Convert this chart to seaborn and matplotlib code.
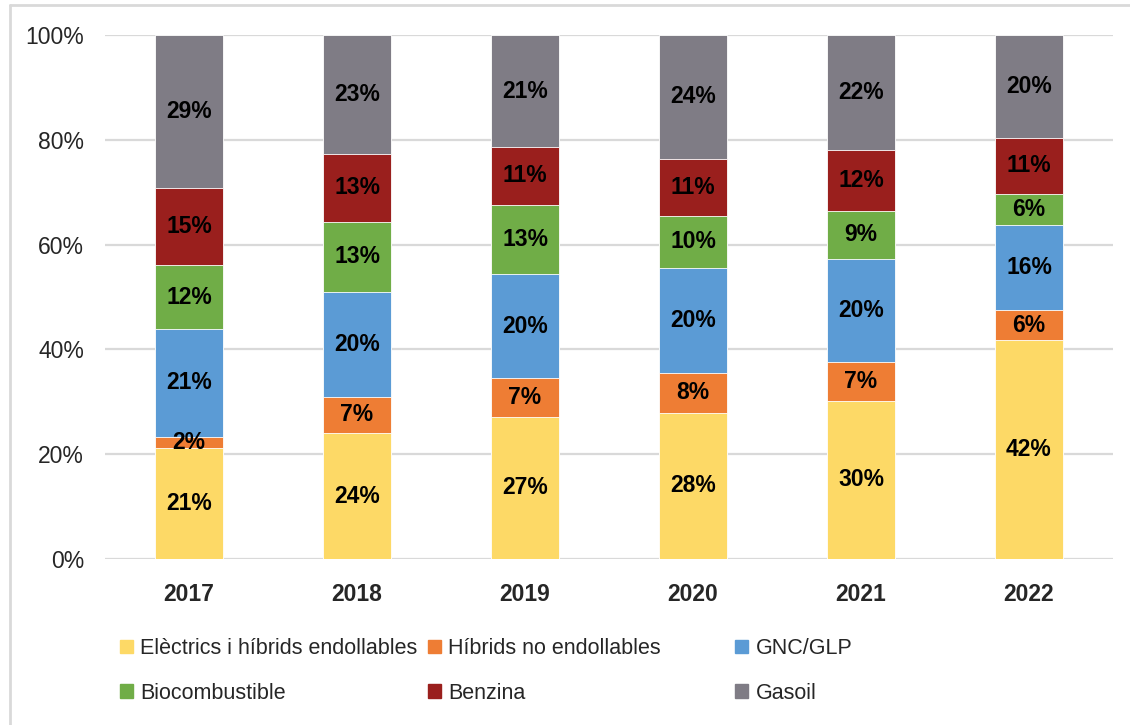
import matplotlib
matplotlib.use("Agg")
import matplotlib.pyplot as plt
import matplotlib.patches as mpatches
import numpy as np
import pandas as pd
import seaborn as sns

# Data (shares in %)
years = ['2017', '2018', '2019', '2020', '2021', '2022']
series = ['Elèctrics i híbrids endollables', 'Híbrids no endollables', 'GNC/GLP',
          'Biocombustible', 'Benzina', 'Gasoil']
electrics = [21.2, 24.0, 27.1, 27.9, 30.2, 41.7]
hibrids = [2.1, 7.0, 7.4, 7.6, 7.4, 5.9]
gnc = [20.6, 20.0, 19.9, 20.0, 19.7, 16.2]
biocomb = [12.2, 13.4, 13.2, 10.0, 9.1, 5.9]
benzina = [14.7, 12.9, 11.0, 10.9, 11.7, 10.7]
gasoil = [29.2, 22.7, 21.4, 23.6, 21.9, 19.6]
colors = ['#FDD966', '#EE7D34', '#5B9BD5', '#70AD47', '#9A1F1D', '#7F7C85']

values = [electrics, hibrids, gnc, biocomb, benzina, gasoil]
df = pd.DataFrame({s: v for s, v in zip(series, values)}, index=years)
cum = df.cumsum(axis=1)

sns.set_style("white")
fonts = ['Liberation Sans Narrow', 'Liberation Sans', 'DejaVu Sans']
plt.rcParams['font.family'] = fonts

fig = plt.figure(figsize=(11.3, 7.25), dpi=100)
ax = fig.add_axes([105 / 1130, 1 - 559 / 725, 1008 / 1130, 524 / 725])

# stacked bars: draw cumulative totals from the top layer down
for i in range(len(series) - 1, -1, -1):
    sns.barplot(x=years, y=cum[series[i]].values, color=colors[i], saturation=1,
                width=0.4, ax=ax, edgecolor='white', linewidth=0.6, zorder=3)

# labels
for i, s in enumerate(series):
    for j, y in enumerate(years):
        v = df.loc[y, s]
        mid = cum.loc[y, s] - v / 2
        ax.text(j, mid, f"{v:.0f}%", ha='center', va='center', fontsize=16.5,
                fontweight='bold', color='black', zorder=5)

ax.set_ylim(0, 100)
ax.set_xlim(-0.5, 5.5)
ax.set_yticks(range(0, 101, 20))
ax.set_yticklabels([f"{t}%" for t in range(0, 101, 20)], fontsize=16.5)
ax.tick_params(axis='y', length=0, pad=15)
ax.tick_params(axis='x', length=0, pad=17, labelsize=16.5)
for lab in ax.get_xticklabels():
    lab.set_fontweight('bold')
ax.yaxis.grid(True, color='#D9D9D9', linewidth=1.6, zorder=0)
ax.set_axisbelow(True)
for sp in ax.spines.values():
    sp.set_visible(False)
ax.set_xlabel('')
ax.set_ylabel('')

# legend: three columns with equal widths, row-major order
col_x = [120 / 1130, 428 / 1130, 735 / 1130]
for c in range(3):
    handles = []
    for r in range(2):
        k = r * 3 + c
        handles.append(mpatches.Patch(color=colors[k], label=series[k]))
    fig.legend(handles=handles, loc='upper left', bbox_to_anchor=(col_x[c], 1 - 638 / 725),
               frameon=False, ncol=1, prop={'size': 15.5},
               handlelength=0.6, handleheight=0.6, handletextpad=0.35,
               labelspacing=1.1, borderaxespad=0, borderpad=0)

# light frame around the chart area
fig.add_artist(plt.Line2D([9.5 / 1130, 9.5 / 1130], [0, 1 - 5 / 725], color='#D9D9D9',
                          linewidth=2, transform=fig.transFigure))
fig.add_artist(plt.Line2D([9.5 / 1130, 1], [1 - 5 / 725, 1 - 5 / 725], color='#D9D9D9',
                          linewidth=2, transform=fig.transFigure))

fig.savefig('out.png', dpi=100)
